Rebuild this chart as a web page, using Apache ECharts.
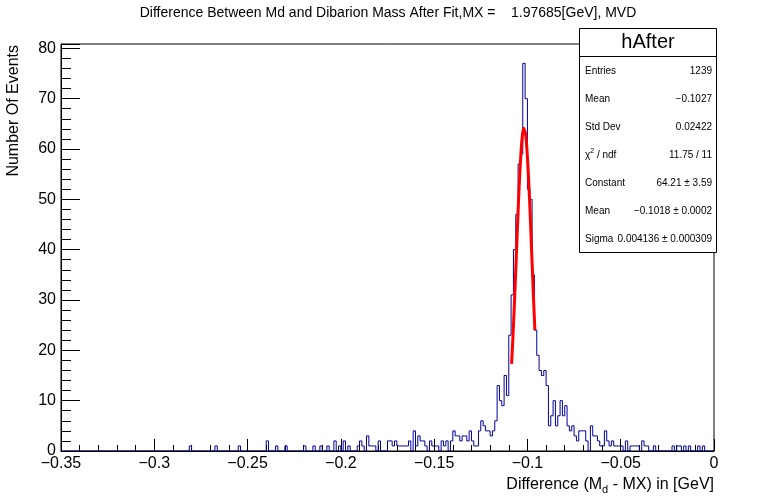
<!DOCTYPE html>
<html>
<head>
<meta charset="utf-8">
<script src="https://cdn.jsdelivr.net/npm/echarts@6/dist/echarts.min.js"></script>
<style>
html, body { margin: 0; padding: 0; background: #fff; }
#chart { width: 777px; height: 499px; }
</style>
</head>
<body>
<div id="chart"></div>
<script>
"use strict";

const FONT = "'Liberation Sans', Arial, Helvetica, sans-serif";

// histogram binning: 280 bins from -0.35 to 0
const histLow = -0.35;
const binWidth = 0.00125;
const counts = [
  0, 0, 0, 0, 0, 0, 0, 0, 0, 0, 0, 0, 0, 0, 0, 0, 0, 0, 0, 0,
  0, 0, 0, 0, 0, 0, 0, 0, 0, 0, 0, 0, 0, 0, 0, 0, 0, 0, 0, 0,
  0, 0, 0, 0, 0, 0, 0, 0, 0, 0, 0, 0, 0, 0, 0, 1, 0, 0, 0, 0,
  0, 0, 0, 0, 0, 0, 1, 0, 0, 0, 0, 0, 0, 0, 0, 0, 1, 0, 0, 0,
  0, 0, 0, 0, 0, 0, 0, 0, 2, 0, 0, 0, 1, 0, 0, 0, 1, 0, 0, 0,
  0, 0, 0, 0, 1, 0, 0, 0, 1, 0, 0, 1, 0, 0, 1, 0, 0, 2, 0, 1,
  0, 2, 0, 1, 0, 0, 0, 1, 2, 1, 0, 3, 1, 1, 1, 0, 2, 0, 0, 0,
  2, 2, 1, 2, 1, 1, 1, 1, 1, 2, 0, 4, 1, 3, 2, 2, 1, 0, 2, 1,
  1, 1, 0, 2, 1, 2, 0, 2, 4, 3, 3, 2, 3, 3, 2, 4, 2, 1, 1, 4,
  6, 5, 4, 4, 3, 4, 6, 13, 10, 9, 15, 11, 23, 31, 40, 47, 57, 59, 77, 70,
  52, 50, 35, 24, 19, 16, 15, 16, 13, 5, 7, 10, 5, 7, 10, 7, 9, 5, 4, 5,
  3, 2, 4, 4, 4, 2, 0, 5, 3, 3, 2, 1, 1, 4, 2, 1, 2, 1, 1, 1,
  1, 0, 2, 0, 1, 1, 1, 1, 0, 2, 1, 1, 0, 0, 1, 0, 0, 0, 0, 0,
  0, 0, 1, 0, 1, 1, 0, 1, 0, 1, 0, 0, 0, 1, 0, 1, 0, 0, 0, 0,
];

// gaussian fit curve as drawn (red)
const fitX = [-0.1085, -0.108, -0.1075, -0.107, -0.1065, -0.106, -0.1055, -0.105, -0.1045, -0.104,
  -0.1035, -0.103, -0.1025, -0.102, -0.1018, -0.101, -0.1005, -0.1, -0.0995, -0.099,
  -0.0985, -0.098, -0.0975, -0.097, -0.0965, -0.096];
const fitY = [17.3, 20.9, 24.8, 29.1, 33.7, 38.3, 43.0, 47.6, 51.9, 55.7,
  59.0, 61.6, 63.3, 64.1, 64.2, 63.0, 61.1, 58.4, 55.0, 51.1,
  46.7, 42.1, 37.4, 32.7, 28.3, 24.0];

const titleText = "Difference Between Md and Dibarion Mass After Fit,MX =    1.97685[GeV], MVD";
const statName = "hAfter";
const statLabels = ["Entries", "Mean", "Std Dev", "χ{sup|2} / ndf", "Constant", "Mean", "Sigma"];
const statValues = ["1239", "−0.1027", "0.02422", "11.75 / 11", "64.21 ± 3.59", "−0.1018 ± 0.0002", "0.004136 ± 0.000309"];

const yMax = 80.85;

const histData = counts.map((c, i) => [histLow + i * binWidth, c]);
histData.push([histLow + counts.length * binWidth, counts[counts.length - 1]]);

const fmtX = (v) => {
  const r = Math.round(v * 100) / 100;
  return r === 0 ? "0" : String(r).replace("-", "−");
};

// ---------- stats box ----------
const box = { x: 579.5, y: 28.5, w: 137, h: 224, head: 28 };
const statEls = [
  { type: "rect", shape: { x: box.x, y: box.y, width: box.w, height: box.h }, style: { fill: "#fff", stroke: "#000", lineWidth: 1 } },
  { type: "line", shape: { x1: box.x, y1: box.y + box.head, x2: box.x + box.w, y2: box.y + box.head }, style: { stroke: "#000", lineWidth: 1 } },
  { type: "text", x: box.x + box.w / 2, y: box.y + 14, style: { text: statName, fontSize: 20, fontFamily: FONT, fill: "#000", align: "center", verticalAlign: "middle" } },
];
statLabels.forEach((lab, i) => {
  const cy = 71 + i * 28;
  statEls.push({ type: "text", x: 585, y: cy, style: { text: lab, fontSize: 10, fontFamily: FONT, fill: "#000", align: "left", verticalAlign: "middle",
    rich: { sup: { fontSize: 7, fontFamily: FONT, padding: [0, 0, 7, 0] } } } });
  statEls.push({ type: "text", x: 712, y: cy, style: { text: statValues[i], fontSize: 10, fontFamily: FONT, fill: "#000", align: "right", verticalAlign: "middle" } });
});

const gridPos = { left: 61, right: 63, top: 44, bottom: 48 };
const tickLine = { color: "#000", width: 1 };

const chart = echarts.init(document.getElementById("chart"));
chart.setOption({
  animation: false,
  backgroundColor: "#fff",
  grid: [
    Object.assign({ show: true, borderColor: "#000", borderWidth: 1, backgroundColor: "transparent" }, gridPos),
    Object.assign({ show: false }, gridPos), // overlay grid only for the y minor ticks
  ],
  xAxis: [
    {
      type: "value", gridIndex: 0, min: -0.35, max: 0, interval: 0.05,
      axisLine: { show: true, onZero: false, lineStyle: tickLine },
      axisTick: { show: true, inside: true, length: 12, lineStyle: tickLine },
      minorTick: { show: true, splitNumber: 5, length: 6, lineStyle: tickLine },
      axisLabel: { color: "#000", fontSize: 16, fontFamily: FONT, margin: 5, formatter: fmtX },
      splitLine: { show: false },
    },
    { type: "value", gridIndex: 1, min: -0.35, max: 0, show: false, axisLine: { onZero: false } },
  ],
  yAxis: [
    {
      type: "value", gridIndex: 0, min: 0, max: yMax, interval: 10, position: "left",
      axisLine: { show: true, onZero: false, lineStyle: tickLine },
      axisTick: { show: true, inside: true, length: 19, lineStyle: tickLine },
      axisLabel: { color: "#000", fontSize: 16, fontFamily: FONT, margin: 5,
        formatter: (v) => (Math.abs(v % 10) < 1e-6 ? String(Math.round(v)) : "") },
      splitLine: { show: false },
    },
    {
      type: "value", gridIndex: 1, min: 0, max: yMax, interval: 2, position: "left",
      axisLine: { show: false, onZero: false },
      axisTick: { show: true, inside: true, length: 10, lineStyle: tickLine },
      axisLabel: { show: false },
      splitLine: { show: false },
    },
  ],
  graphic: [
    { type: "text", x: 388, y: 13, z: 100, style: { text: titleText, fontSize: 14, fontFamily: FONT, fill: "#000", align: "center", verticalAlign: "middle" } },
    { type: "text", x: 14, y: 45, z: 100, rotation: Math.PI / 2,
      style: { text: "Number Of Events", fontSize: 16, fontFamily: FONT, fill: "#000", align: "right", verticalAlign: "middle" } },
    { type: "text", x: 714, y: 485, z: 100,
      style: { text: "Difference (M{sub|d} - MX) in [GeV]", fontSize: 16, fontFamily: FONT, fill: "#000", align: "right", verticalAlign: "middle",
        rich: { sub: { fontSize: 11, fontFamily: FONT, padding: [10, 0, 0, 0] } } } },
    { type: "group", z: 100, children: statEls },
  ],
  series: [
    { name: "hAfter", type: "line", step: "end", data: histData, symbol: "none", silent: true,
      lineStyle: { color: "#000099", width: 1 }, z: 2 },
    { name: "fit", type: "line", data: fitX.map((x, i) => [x, fitY[i]]), smooth: 0.3, symbol: "none", silent: true,
      lineStyle: { color: "#ff0000", width: 3 }, z: 3 },
  ],
});
</script>
</body>
</html>
